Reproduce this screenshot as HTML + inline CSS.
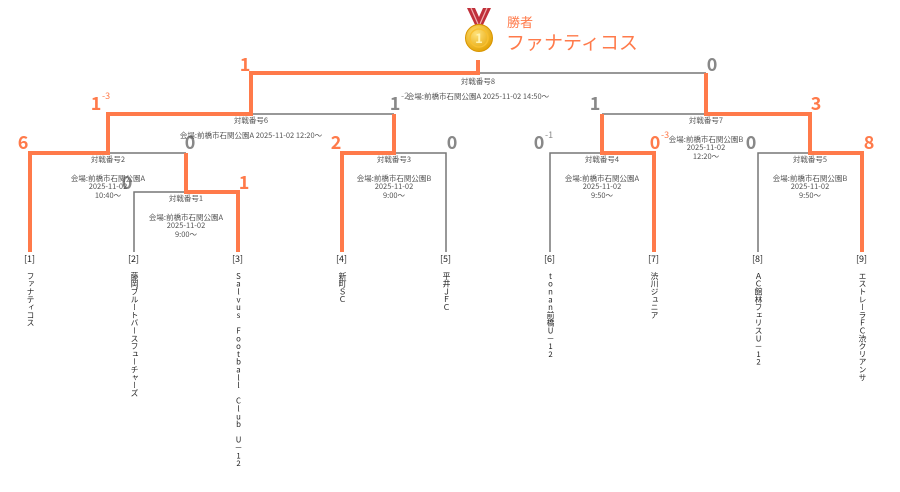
<!DOCTYPE html>
<html><head><meta charset="utf-8"><style>
body{margin:0;background:#fff;width:900px;height:476px;overflow:hidden;position:relative;font-family:"Liberation Sans","Noto Sans CJK JP",sans-serif}
svg{position:absolute;left:0;top:0}
.n{position:absolute;top:272px;height:220px;white-space:nowrap;writing-mode:vertical-rl;text-orientation:upright;font-size:7.8px;line-height:9px;color:#222;font-family:"Noto Sans CJK JP",sans-serif}
.id{position:absolute;top:252px;font-size:9px;color:#222;font-family:"Noto Sans CJK JP",sans-serif}
</style></head><body>
<svg width="900" height="476" font-family="Noto Sans CJK JP, sans-serif">
<defs><radialGradient id="g" cx="40%" cy="35%" r="70%"><stop offset="0" stop-color="#ffe27a"/><stop offset="1" stop-color="#e2a000"/></radialGradient></defs>
<g fill="none" stroke="#777" stroke-width="1.5">
<path d="M134 252V192H186"/><path d="M394 153H446V252"/><path d="M550 252V153H602"/><path d="M758 252V153H810"/><path d="M108 153H186"/><path d="M251 114H394"/><path d="M602 114H706"/><path d="M478 73H706"/>
</g>
<g fill="none" stroke="#ff7a4a" stroke-width="4">
<path d="M238 252V192H186V153"/><path d="M30 252V153H108V114H251V73H478V60"/><path d="M342 252V153H394V114"/><path d="M654 252V153H602V114"/><path d="M862 252V153H810V114H706V73"/>
</g>
<g font-size="18" fill="#ff7a4a" text-anchor="middle" font-weight="bold">
<text x="245" y="71">1</text><text x="96" y="110">1</text><text x="816" y="110">3</text><text x="23" y="149">6</text><text x="336" y="149">2</text><text x="655" y="149">0</text><text x="869" y="149">8</text><text x="244" y="189">1</text>
</g>
<g font-size="9" fill="#ff7a4a"><text x="102" y="99">-3</text><text x="661" y="138">-3</text></g>
<g font-size="18" fill="#888" text-anchor="middle" font-weight="bold">
<text x="712" y="71">0</text><text x="395" y="110">1</text><text x="595" y="110">1</text><text x="190" y="149">0</text><text x="452" y="149">0</text><text x="539" y="149">0</text><text x="751" y="149">0</text><text x="127" y="189">0</text>
</g>
<g font-size="9" fill="#888"><text x="401" y="99">-2</text><text x="545" y="138">-1</text></g>
<g font-size="7.5" fill="#555" text-anchor="middle">
<text x="478" y="84">対戦番号8</text><text x="478" y="99">会場:前橋市石関公園A 2025-11-02 14:50〜</text>
<text x="251" y="123">対戦番号6</text><text x="251" y="138">会場:前橋市石関公園A 2025-11-02 12:20〜</text>
<text x="706" y="123">対戦番号7</text><text x="706" y="142">会場:前橋市石関公園B</text><text x="706" y="150">2025-11-02</text><text x="706" y="159">12:20〜</text>
<text x="108" y="162">対戦番号2</text><text x="108" y="181">会場:前橋市石関公園A</text><text x="108" y="189">2025-11-02</text><text x="108" y="198">10:40〜</text>
<text x="394" y="162">対戦番号3</text><text x="394" y="181">会場:前橋市石関公園B</text><text x="394" y="189">2025-11-02</text><text x="394" y="198">9:00〜</text>
<text x="602" y="162">対戦番号4</text><text x="602" y="181">会場:前橋市石関公園A</text><text x="602" y="189">2025-11-02</text><text x="602" y="198">9:50〜</text>
<text x="810" y="162">対戦番号5</text><text x="810" y="181">会場:前橋市石関公園B</text><text x="810" y="189">2025-11-02</text><text x="810" y="198">9:50〜</text>
<text x="186" y="201">対戦番号1</text><text x="186" y="220">会場:前橋市石関公園A</text><text x="186" y="228">2025-11-02</text><text x="186" y="237">9:00〜</text>
</g>
<path d="M467 8L475 8L479 17L483 8L491 8L482 27L476 27Z" fill="#c0303a"/><path d="M471 8L478 24M487 8L480 24" stroke="#f0b0b0" stroke-width="1.2"/>
<circle cx="479" cy="38" r="13.5" fill="url(#g)" stroke="#d89400" stroke-width="1"/><circle cx="479" cy="38" r="9" fill="none" stroke="#f8c030" stroke-width="1.5"/>
<text x="479" y="43" font-size="13" fill="#fff3b0" text-anchor="middle" font-weight="bold">1</text>
<text x="507" y="27" font-size="13" fill="#ff7a4a">勝者</text>
<text x="506" y="49" font-size="19" fill="#ff7a4a">ファナティコス</text>
</svg>
<div class="id" style="left:24px">[1]</div><div class="id" style="left:128px">[2]</div><div class="id" style="left:232px">[3]</div><div class="id" style="left:336px">[4]</div><div class="id" style="left:440px">[5]</div><div class="id" style="left:544px">[6]</div><div class="id" style="left:648px">[7]</div><div class="id" style="left:752px">[8]</div><div class="id" style="left:856px">[9]</div>
<div class="n" style="left:26px">ファナティコス</div>
<div class="n" style="left:130px">藤岡ブルートバースフューチャーズ</div>
<div class="n" style="left:234px">Salvus Football Club U－12</div>
<div class="n" style="left:338px">新町ＳＣ</div>
<div class="n" style="left:442px">平井ＪＦＣ</div>
<div class="n" style="left:546px">tonan前橋U－12</div>
<div class="n" style="left:650px">渋川ジュニア</div>
<div class="n" style="left:754px">ＡＣ館林フェリスU－12</div>
<div class="n" style="left:858px">エストレーラＦＣ渋クリアンサ</div>
</body></html>
